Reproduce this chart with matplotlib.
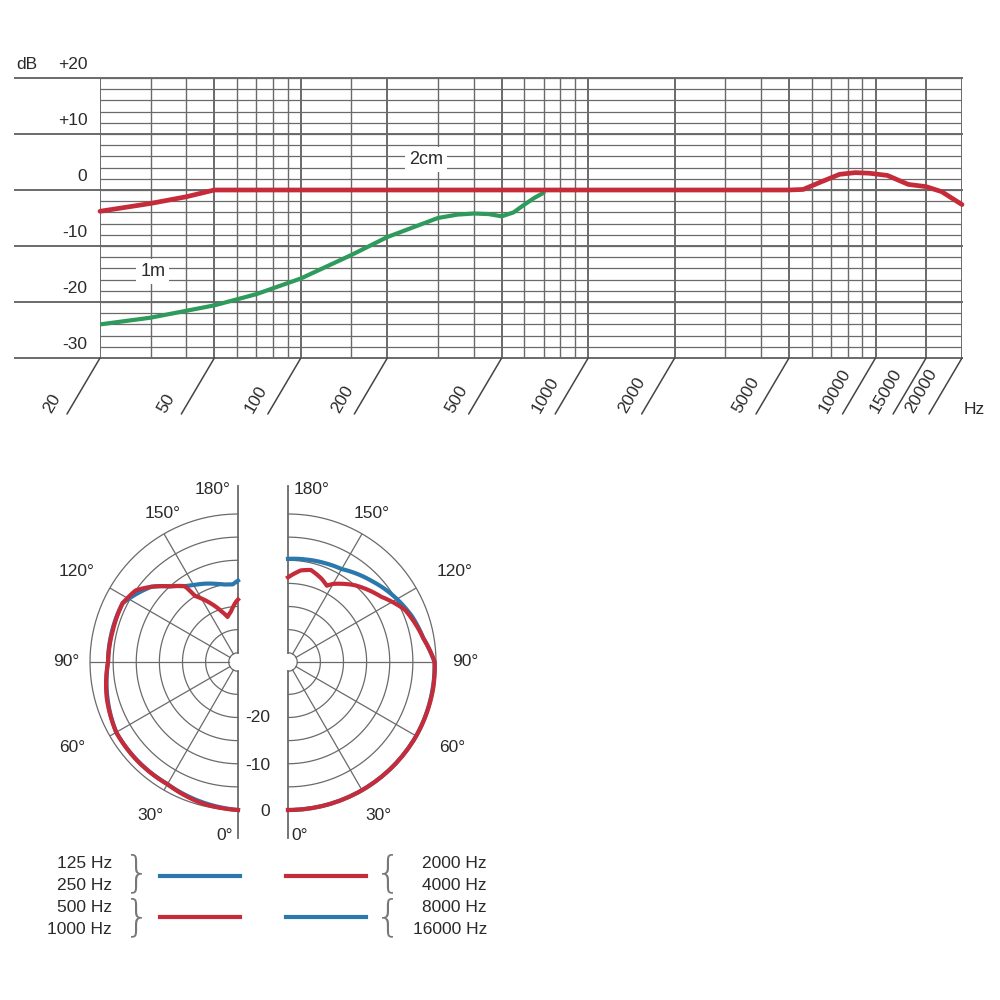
import numpy as np
import matplotlib
matplotlib.use("Agg")
import matplotlib.pyplot as plt
from matplotlib.lines import Line2D

# ---------------- data ----------------
freq_grid = [20, 30, 40, 50, 60, 70, 80, 90, 100, 150, 200, 300, 400, 500, 600, 700, 800, 900,
             1000, 2000, 3000, 4000, 5000, 6000, 7000, 8000, 9000, 10000, 15000, 20000]
freq_labels = [20, 50, 100, 200, 500, 1000, 2000, 5000, 10000, 15000, 20000]
db_major = [20, 10, 0, -10, -20, -30]
db_major_text = ["+20", "+10", "0", "-10", "-20", "-30"]

f_2cm = [20, 30, 40, 50, 1000, 5000, 5600, 6500, 7500, 8500, 9500, 11000, 13000, 15000, 17000, 20000]
db_2cm = [-3.8, -2.4, -1.2, 0.0, 0.0, 0.0, 0.1, 1.5, 2.8, 3.1, 3.0, 2.6, 1.0, 0.6, -0.3, -2.6]

f_1m = [20, 30, 50, 70, 100, 150, 200, 300, 350, 400, 450, 500, 550, 600, 650, 700]
db_1m = [-24.0, -22.8, -20.6, -18.6, -15.8, -11.6, -8.4, -5.0, -4.4, -4.2, -4.3, -4.7, -4.0, -2.6, -1.4, -0.5]

# polar (angle deg, dB)
L_red_th = [0, 15, 30, 45, 60, 75, 90, 104, 117, 125, 131, 138, 145, 147, 155, 162, 167, 172, 178, 180]
L_red_db = [0, -0.5, -1.5, -1.5, -1.6, -2.6, -3.9, -4.1, -4.0, -5.0, -7.2, -10.0, -12.0, -15.0, -18.0, -20.5, -22.0, -21.0, -19.0, -18.5]
L_blue_th = [0, 30, 60, 90, 117, 131, 138, 145, 150, 157, 163, 170, 176, 180]
L_blue_db = [0, -1.5, -1.6, -3.9, -4.0, -7.2, -10.0, -12.0, -12.8, -13.6, -14.3, -15.0, -15.2, -14.4]

R_red_th = [0, 30, 60, 80, 90, 100, 114, 125, 139, 150, 153, 158, 166, 172, 180]
R_red_db = [0, 0, 0, -0.1, -0.3, -2.3, -4.3, -7.4, -10.0, -12.5, -13.5, -12.6, -11.5, -12.0, -13.7]
R_blue_th = [0, 30, 60, 90, 100, 110, 115, 125, 134, 142, 150, 160, 170, 180]
R_blue_db = [0, 0, 0, -0.3, -2.3, -3.4, -4.1, -5.5, -6.8, -7.8, -8.8, -9.2, -9.5, -9.7]

rings = [0, -5, -10, -15, -20, -25]
spokes = [30, 60, 90, 120, 150]

legend_left = ["125 Hz", "250 Hz", "500 Hz", "1000 Hz"]
legend_right = ["2000 Hz", "4000 Hz", "8000 Hz", "16000 Hz"]

RED = "#c62b3a"
BLUE = "#2b78ad"
GREEN = "#2e9a5c"
GRID = "#6a6a6a"
TXT = "#2a2a2a"

fig = plt.figure(figsize=(10, 10), dpi=100)
plt.rcParams['font.family'] = ['Liberation Sans', 'DejaVu Sans']
FS = 12.5

def fx(x): return x / 1000.0
def fy(y): return 1 - y / 1000.0

# ---------------- frequency response ----------------
ax = fig.add_axes([fx(100), fy(358), fx(962) - fx(100), fy(78) - fy(358)])
ax.set_xscale("log")
ax.set_xlim(20, 20000)
ax.set_ylim(-30, 20)
for s in ax.spines.values():
    s.set_visible(False)
ax.set_xticks([]); ax.set_yticks([])
ax.xaxis.set_minor_locator(matplotlib.ticker.NullLocator())

for d in range(-30, 21, 2):
    ax.axhline(d, color=GRID, lw=0.9, zorder=1)
for d, t in zip(db_major, db_major_text):
    ax.plot([-0.099, 1.0], [d, d], transform=ax.get_yaxis_transform(), color=GRID,
            lw=1.4, clip_on=False, zorder=1)
    ax.annotate(t, xy=(0, d), xycoords=ax.get_yaxis_transform(), xytext=(-9, 4),
                textcoords="offset points", ha="right", va="bottom", fontsize=FS, color=TXT)
ax.annotate("dB", xy=(-0.099, 20), xycoords=ax.get_yaxis_transform(), xytext=(1, 4),
            textcoords="offset points", ha="left", va="bottom", fontsize=FS, color=TXT)
for f in freq_grid:
    ax.axvline(f, color=GRID, lw=1.4 if f in freq_labels else 1.0, zorder=1)

for f in freq_labels:
    ax.annotate("", xy=(f, -30), xytext=(-33 * 0.72, -56 * 0.72), textcoords="offset points",
                arrowprops=dict(arrowstyle="-", lw=1.1, color="#444", shrinkA=0, shrinkB=0),
                annotation_clip=False)
    ax.annotate(str(f), xy=(f, -30), xytext=(-46 * 0.72, -57 * 0.72), textcoords="offset points",
                ha="left", va="bottom", rotation=60, rotation_mode="anchor", fontsize=FS,
                color=TXT, annotation_clip=False)
fig.text(fx(964), fy(410), "Hz", fontsize=FS, color=TXT, ha="left", va="center")

ax.plot(f_1m, db_1m, color=GREEN, lw=3, zorder=3, solid_capstyle="round")
ax.plot(f_2cm, db_2cm, color=RED, lw=3.4, zorder=4, solid_capstyle="round", clip_on=False)
ax.text(272, 5.4, "2cm", ha="center", va="center", fontsize=FS + 0.5, color=TXT, zorder=5,
        bbox=dict(facecolor="white", edgecolor="none", pad=3))
ax.text(30.5, -14.6, "1m", ha="center", va="center", fontsize=FS + 0.5, color=TXT, zorder=5,
        bbox=dict(facecolor="white", edgecolor="none", pad=3))

# ---------------- polar plots ----------------
R = 148
def polar_ax(cx, cy, direction):
    p = fig.add_axes([fx(cx - R), fy(cy + R), 2 * R / 1000, 2 * R / 1000], projection="polar")
    p.set_theta_zero_location("S")
    p.set_theta_direction(direction)
    p.set_rlim(-32, 0)
    p.axis("off")
    p.patch.set_alpha(0)
    th = np.linspace(0, np.pi, 200)
    for r in rings:
        p.plot(th, np.full_like(th, r), color=GRID, lw=0.9, clip_on=False)
    p.plot(th, np.full_like(th, -30), color=GRID, lw=0.9)
    for s in spokes:
        p.plot([np.radians(s)] * 2, [-30, 0], color=GRID, lw=0.9)
    for t in (0, np.pi):
        p.plot([t, t], [-30, 6], color=GRID, lw=1.3, clip_on=False)
    return p

def curve(p, th, db, color, z):
    ln, = p.plot(np.radians(th), db, color=color, lw=3, zorder=z, solid_joinstyle="round",
                 clip_on=False)
    ln.get_path()._interpolation_steps = 40

pl = polar_ax(238, 662, -1)
pr = polar_ax(288, 662, 1)
curve(pl, L_blue_th, L_blue_db, BLUE, 3)
curve(pl, L_red_th, L_red_db, RED, 4)
curve(pr, R_blue_th, R_blue_db, BLUE, 3)
curve(pr, R_red_th, R_red_db, RED, 4)

angle_labels = ["180°", "150°", "120°", "90°", "60°", "30°", "0°"]
left_pos = [(213, 490), (163, 513), (77, 572), (66, 662), (72, 748), (150, 815), (225, 835)]
right_pos = [(312, 490), (372, 513), (455, 572), (465, 662), (452, 748), (378, 815), (300, 835)]
for t, (x, y) in zip(angle_labels, left_pos):
    fig.text(fx(x), fy(y), t, ha="center", va="center", fontsize=FS, color=TXT)
for t, (x, y) in zip(angle_labels, right_pos):
    fig.text(fx(x), fy(y), t, ha="center", va="center", fontsize=FS, color=TXT)
for t, y in zip(["-20", "-10", "0"], [718, 765, 812]):
    fig.text(fx(270), fy(y), t, ha="right", va="center", fontsize=FS, color=TXT)

# ---------------- legend ----------------
for t, y in zip(legend_left, [863, 885, 908, 930]):
    fig.text(fx(112), fy(y), t, ha="right", va="center", fontsize=FS, color=TXT)
for t, y in zip(legend_right, [863, 885, 908, 930]):
    fig.text(fx(487), fy(y), t, ha="right", va="center", fontsize=FS, color=TXT)
for x, y in [(137, 874), (137, 918)]:
    fig.text(fx(x), fy(y), "}", ha="center", va="center", fontsize=30, color="#777",
             family="DejaVu Sans", fontweight="ultralight")
for x, y in [(388, 874), (388, 918)]:
    fig.text(fx(x), fy(y), "{", ha="center", va="center", fontsize=30, color="#777",
             family="DejaVu Sans", fontweight="ultralight")
for (x0, x1, y, c) in [(160, 240, 876, BLUE), (160, 240, 917, RED), (286, 366, 876, RED), (286, 366, 917, BLUE)]:
    fig.add_artist(Line2D([fx(x0), fx(x1)], [fy(y), fy(y)], transform=fig.transFigure, color=c, lw=3))

fig.savefig("out.png", dpi=100, facecolor="white")
